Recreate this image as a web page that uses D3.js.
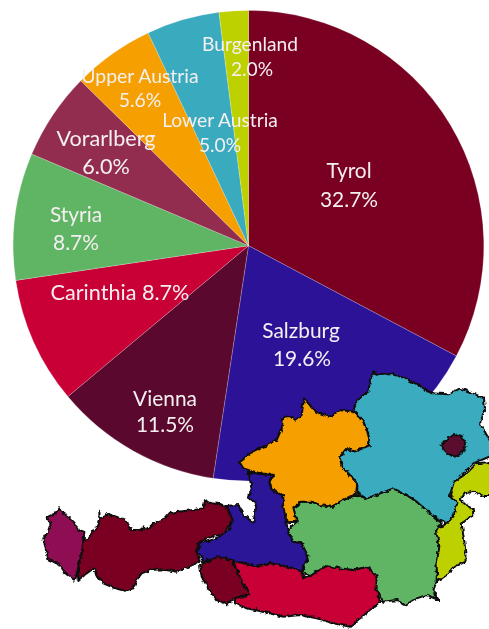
<!DOCTYPE html>
<html><head><meta charset="utf-8">
<script src="https://cdn.jsdelivr.net/npm/d3@7"></script>
<style>html,body{margin:0;padding:0;background:#fff;overflow:hidden}svg{display:block}</style>
</head><body><svg id="c" width="489" height="629"></svg>
<script>
const states = ["Tyrol","Salzburg","Vienna","Carinthia","Styria","Vorarlberg","Upper Austria","Lower Austria","Burgenland"];
const shares = [32.7,19.6,11.5,8.7,8.7,6.0,5.6,5.0,2.0];
const sliceColors = ["#7a0022","#2c1296","#5a082e","#c90035","#60b565","#922d50","#f59f00","#3aabbf","#bdd100"];
const vorarlbergMapColor = "#8f0f52";

// label anchors (px): name line, value line, font size
const labelNameAt = [[349,171],[301,331],[165,399],[120,292],[76,215],[106,138],[140,76],[220,120],[250,44]];
const labelValueAt = [[349,200],[302,359],[165,425],null,[76,243],[106,166],[140,100],[220,145],[252,69]];
const labelSizes = [20.9,20.9,20.9,21.6,20.9,21.6,19.4,19.2,19.2];

// map outlines, traced in a 1467x807 frame covering the lower part of the picture
const outVorarlberg = [[178,445],[165,460],[140,472],[152,490],[145,512],[130,535],[138,570],[145,598],[175,612],[190,635],[225,662],[233,630],[245,580],[250,550],[253,515],[235,510],[225,490],[208,472],[190,460]];
const outTyrol = [[298,455],[300,475],[325,462],[355,472],[375,478],[395,510],[420,510],[430,502],[445,508],[468,485],[495,475],[510,458],[560,452],[585,450],[610,445],[615,420],[630,430],[660,432],[680,440],[698,480],[688,495],[670,520],[620,535],[595,550],[588,575],[600,605],[570,618],[530,635],[485,628],[450,630],[425,640],[410,660],[400,685],[375,692],[345,685],[310,670],[295,652],[280,625],[260,640],[235,660],[233,640],[245,580],[250,545],[268,530],[290,500],[298,480]];
const outEastTyrol = [[655,590],[695,600],[710,630],[730,670],[748,703],[705,715],[680,733],[650,720],[625,685],[605,650],[600,615]];
const outSalzburg = [[745,335],[780,342],[825,345],[810,375],[820,395],[850,405],[852,440],[860,490],[865,520],[880,545],[905,550],[925,590],[905,635],[860,620],[810,610],[775,620],[730,610],[695,600],[655,590],[610,605],[592,575],[600,550],[650,535],[685,510],[698,480],[680,438],[715,435],[730,465],[760,488],[770,430],[745,415],[755,385]];
const outCarinthia = [[695,600],[730,610],[775,620],[810,610],[860,620],[905,635],[912,652],[935,645],[975,618],[1020,625],[1060,630],[1100,620],[1130,650],[1130,690],[1140,725],[1110,750],[1080,775],[1050,800],[1000,790],[950,775],[900,765],[850,770],[790,755],[740,745],[705,730],[705,715],[748,703],[730,670],[710,630]];
const outStyria = [[905,425],[935,425],[960,435],[995,440],[1020,425],[1068,405],[1100,415],[1140,400],[1180,385],[1220,405],[1250,425],[1290,460],[1325,490],[1308,510],[1318,560],[1310,610],[1310,665],[1300,690],[1315,720],[1280,705],[1250,715],[1215,735],[1190,720],[1150,725],[1130,690],[1130,650],[1100,620],[1060,630],[1020,625],[975,618],[935,645],[905,640],[925,590],[905,550],[880,545],[862,510],[890,485],[880,445]];
const outUpperAustria = [[912,115],[925,130],[945,155],[990,170],[1020,150],[1060,155],[1090,185],[1110,240],[1105,258],[1065,275],[1040,265],[1020,290],[1025,320],[1050,345],[1072,370],[1068,400],[1020,425],[995,440],[960,435],[935,425],[905,425],[880,445],[890,485],[860,487],[850,440],[850,405],[815,385],[808,365],[822,345],[780,340],[745,330],[730,325],[718,305],[750,280],[800,255],[830,240],[845,205],[850,170],[870,168],[885,182],[905,165]];
const outLowerAustria = [[1120,37],[1140,45],[1175,42],[1215,55],[1250,72],[1295,100],[1345,103],[1380,85],[1420,100],[1452,115],[1455,150],[1440,190],[1480,260],[1480,285],[1420,310],[1380,350],[1360,380],[1350,410],[1372,430],[1360,470],[1340,490],[1320,480],[1290,460],[1250,425],[1220,405],[1180,385],[1140,400],[1100,415],[1072,400],[1072,370],[1050,345],[1025,320],[1020,290],[1040,265],[1065,275],[1110,255],[1105,220],[1090,185],[1060,150],[1075,115],[1105,95],[1110,60]];
const outVienna = [[1365,222],[1385,228],[1398,255],[1385,280],[1365,290],[1340,280],[1322,258],[1340,238]];
const outBurgenland = [[1480,305],[1480,408],[1450,408],[1420,395],[1395,400],[1380,420],[1395,432],[1418,445],[1420,465],[1385,490],[1395,560],[1397,605],[1365,620],[1340,645],[1312,665],[1310,610],[1318,560],[1308,510],[1340,490],[1360,470],[1372,430],[1350,405],[1362,365],[1400,340],[1430,310]];

const mapRegions = [
  [outVorarlberg,vorarlbergMapColor],[outTyrol,sliceColors[0]],[outEastTyrol,sliceColors[0]],[outSalzburg,sliceColors[1]],[outCarinthia,sliceColors[3]],
  [outStyria,sliceColors[4]],[outUpperAustria,sliceColors[6]],[outLowerAustria,sliceColors[7]],[outBurgenland,sliceColors[8]],[outVienna,sliceColors[2]]
];

const svg = d3.select("#c");
const defs = svg.append("defs");
defs.append("filter").attr("id","soft").append("feGaussianBlur").attr("stdDeviation",0.45);
const rough = defs.append("filter").attr("id","rough").attr("x","-5%").attr("y","-5%").attr("width","110%").attr("height","110%");
rough.append("feTurbulence").attr("type","fractalNoise").attr("baseFrequency",0.22).attr("numOctaves",2).attr("seed",4).attr("result","n");
rough.append("feDisplacementMap").attr("in","SourceGraphic").attr("in2","n").attr("scale",4.5).attr("xChannelSelector","R").attr("yChannelSelector","G").attr("result","d");
rough.append("feGaussianBlur").attr("in","d").attr("stdDeviation",0.55);

const cx = 248.5, cy = 245.7, radius = 235.3;
const pie = d3.pie().sort(null).value(d=>d);
const arc = d3.arc().innerRadius(0).outerRadius(radius);

const pieG = svg.append("g").attr("transform",`translate(${cx},${cy})`);
pieG.selectAll("path").data(pie(shares)).join("path")
  .attr("d",arc).attr("fill",(d,i)=>sliceColors[i])
  .attr("stroke","#fff").attr("stroke-opacity",0.35).attr("stroke-width",0.6);

const labels = svg.append("g").attr("filter","url(#soft)")
  .attr("font-family","Lato, 'Open Sans', sans-serif")
  .attr("fill","#f4eff0").attr("text-anchor","middle");
states.forEach((s,i)=>{
  const v = shares[i].toFixed(1)+"%";
  const second = labelValueAt[i];
  labels.append("text").attr("x",labelNameAt[i][0]).attr("y",labelNameAt[i][1])
    .attr("font-size",labelSizes[i]).attr("dy","0.35em").text(second ? s : s+" "+v);
  if(second) labels.append("text").attr("x",second[0]).attr("y",second[1])
    .attr("font-size",labelSizes[i]).attr("dy","0.35em").text(v);
});

const mx = d3.scaleLinear().domain([0,1467]).range([0,489]);
const my = d3.scaleLinear().domain([0,807]).range([360,629]);
const outline = d3.line().x(d=>mx(d[0])).y(d=>my(d[1])).curve(d3.curveLinearClosed);
svg.append("g").attr("filter","url(#rough)").selectAll("path").data(mapRegions).join("path")
  .attr("d",d=>outline(d[0])).attr("fill",d=>d[1])
  .attr("stroke","#111").attr("stroke-width",2).attr("stroke-linejoin","round");
</script></body></html>
